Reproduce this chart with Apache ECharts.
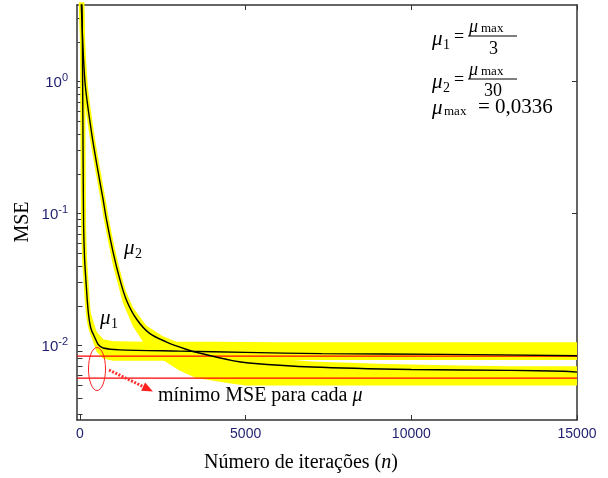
<!DOCTYPE html>
<html>
<head>
<meta charset="utf-8">
<script src="https://cdn.jsdelivr.net/npm/echarts@6/dist/echarts.min.js"></script>
<style>
  html, body { margin: 0; padding: 0; background: #fff; }
  #main { width: 608px; height: 478px; }
</style>
</head>
<body>
<div id="main"></div>
<script>
// curva mu1 (passo maior)
const mu1N = [0, 60, 80, 95, 110, 140, 180, 250, 330, 450, 550, 700, 1200, 3000, 5000, 7300, 11000, 15000];
const mu1Mse = [8, 3.8, 1.0, 0.25, 0.08, 0.045, 0.031, 0.018, 0.0135, 0.0115, 0.0102, 0.0096, 0.0093, 0.0091, 0.0089, 0.0087, 0.0086, 0.0084];

// curva mu2 (passo menor)
const mu2N = [0, 40, 150, 350, 520, 700, 800, 1000, 1200, 1400, 1700, 2100, 2600, 3200, 3600, 4600, 5100, 7000, 10000, 13000, 14600, 15000];
const mu2Mse = [10, 3.8, 1.0, 0.41, 0.227, 0.127, 0.09, 0.051, 0.032, 0.0222, 0.016, 0.0124, 0.0107, 0.0094, 0.0088, 0.0077, 0.0074, 0.0069, 0.0066, 0.0065, 0.0064, 0.0063];

// faixa de ruido (amarelo): envelopes
const mu1BandN = [150, 200, 300, 500, 700, 1000, 2000, 4000, 6000, 8000, 10000, 12000, 15000];
const mu1Hi = [0.05, 0.032, 0.0185, 0.0128, 0.0112, 0.0108, 0.0107, 0.0107, 0.0106, 0.0106, 0.0106, 0.0106, 0.0106];
const mu1Lo = [0.03, 0.019, 0.0125, 0.0090, 0.0080, 0.0077, 0.0077, 0.0077, 0.0078, 0.0078, 0.0078, 0.0078, 0.0078];

const mu2BandN = [700, 1000, 1300, 1600, 2000, 2500, 3000, 3500, 4500, 5000, 7000, 9000, 11000, 13000, 15000];
const mu2Hi = [0.14, 0.056, 0.029, 0.0195, 0.0142, 0.0118, 0.0105, 0.0098, 0.0088, 0.0083, 0.0076, 0.0073, 0.0071, 0.0070, 0.0070];
const mu2Lo = [0.10, 0.040, 0.021, 0.0140, 0.0098, 0.0078, 0.0065, 0.0057, 0.0052, 0.0050, 0.0050, 0.0050, 0.0050, 0.0050, 0.0050];

// minimo MSE para cada mu
const minMse = [0.00833, 0.00567];

const xTicks = [0, 5000, 10000, 15000];
const yDecades = [-2, -1, 0];
const xMin = -90;
const xMax = 15000;

const lg = Math.log10;
const yMinor = [];
yDecades.concat([-3]).forEach(d => {
  for (let k = 2; k <= 9; k++) yMinor.push(lg(k) + d);
});

const pairs = (xs, ys) => xs.map((x, i) => [x, lg(ys[i])]);

const navy = '#1e1e6e';
const boxLine = { show: true, onZero: false, lineStyle: { color: '#333', width: 1.5 } };
const yRange = { min: -2.563, max: 0.581 };

// faixa amarela desenhada como poligono pelas coordenadas do grid
function bandSeries(xs, hi, lo) {
  return {
    type: 'custom', silent: true, z: 1, clip: true,
    data: xs.map((x, i) => [x, lg(hi[i]), lg(lo[i])]),
    encode: { x: 0, y: [1, 2] },
    renderItem: (params, api) => {
      if (params.dataIndex !== 0) return;
      const top = xs.map((x, i) => api.coord([x, lg(hi[i])]));
      const bot = xs.map((x, i) => api.coord([x, lg(lo[i])])).reverse();
      return { type: 'polygon', shape: { points: top.concat(bot) }, style: { fill: '#ffff00' } };
    }
  };
}

const serif = 'Liberation Serif';
const chart = echarts.init(document.getElementById('main'));

const option = {
  animation: false,
  grid: { left: 77, right: 31, top: 5, bottom: 58 },
  xAxis: [
    {
      type: 'value', min: xMin, max: xMax, position: 'bottom',
      axisLine: boxLine, splitLine: { show: false },
      axisTick: { inside: true, length: 5, customValues: xTicks, lineStyle: { color: '#333' } },
      axisLabel: {
        customValues: xTicks, color: navy, fontSize: 14, fontFamily: 'Liberation Sans', margin: 7,
        formatter: v => String(v)
      }
    },
    {
      type: 'value', min: xMin, max: xMax, position: 'top',
      axisLine: boxLine, splitLine: { show: false },
      axisTick: { inside: true, length: 5, customValues: xTicks, lineStyle: { color: '#333' } },
      axisLabel: { show: false }
    }
  ],
  yAxis: [
    {
      type: 'value', ...yRange, position: 'left',
      axisLine: boxLine, splitLine: { show: false },
      axisTick: { inside: true, length: 5, customValues: yDecades, lineStyle: { color: '#333' } },
      axisLabel: {
        customValues: yDecades, margin: 9,
        formatter: v => '{b|10}{s|' + v + '}',
        rich: {
          b: { fontSize: 15, fontFamily: 'Liberation Sans', color: navy, verticalAlign: 'bottom' },
          s: { fontSize: 11, fontFamily: 'Liberation Sans', color: navy, padding: [0, 0, 7, 0], verticalAlign: 'top' }
        }
      }
    },
    {
      type: 'value', ...yRange, position: 'left',
      axisLine: { show: false }, splitLine: { show: false }, axisLabel: { show: false },
      axisTick: { inside: true, length: 2.5, customValues: yMinor, lineStyle: { color: '#333' } }
    },
    {
      type: 'value', ...yRange, position: 'right',
      axisLine: boxLine, splitLine: { show: false }, axisLabel: { show: false },
      axisTick: { inside: true, length: 5, customValues: yDecades, lineStyle: { color: '#333' } }
    },
    {
      type: 'value', ...yRange, position: 'right',
      axisLine: { show: false }, splitLine: { show: false }, axisLabel: { show: false },
      axisTick: { inside: true, length: 2.5, customValues: yMinor, lineStyle: { color: '#333' } }
    }
  ],
  series: [
    bandSeries(mu1BandN, mu1Hi, mu1Lo),
    bandSeries(mu2BandN, mu2Hi, mu2Lo),
    {
      type: 'line', data: pairs(mu1N, mu1Mse), symbol: 'none', smooth: 0.3,
      lineStyle: { color: '#ffff00', width: 5 }, z: 2, silent: true
    },
    {
      type: 'line', data: pairs(mu2N, mu2Mse), symbol: 'none', smooth: 0.3,
      lineStyle: { color: '#ffff00', width: 5 }, z: 2, silent: true
    },
    ...minMse.map(v => ({
      type: 'line', data: [[xMin, lg(v)], [xMax, lg(v)]], symbol: 'none',
      lineStyle: { color: '#ff0000', width: 1.3 }, z: 3, silent: true
    })),
    {
      type: 'line', data: pairs(mu1N, mu1Mse), symbol: 'none', smooth: 0.3,
      lineStyle: { color: '#000', width: 1.4 }, z: 4, silent: true
    },
    {
      type: 'line', data: pairs(mu2N, mu2Mse), symbol: 'none', smooth: 0.3,
      lineStyle: { color: '#000', width: 1.4 }, z: 4, silent: true
    }
  ],
  graphic: [
    // titulos dos eixos
    {
      type: 'text', x: 23, y: 222, rotation: Math.PI / 2,
      style: { text: 'MSE', font: '20px "Liberation Serif"', fill: '#000', align: 'center', verticalAlign: 'middle' }
    },
    {
      type: 'text', x: 301, y: 463,
      style: {
        text: 'Número de iterações ({i|n})', font: '20px "Liberation Serif"', fill: '#000',
        align: 'center', verticalAlign: 'middle',
        rich: { i: { font: 'italic 20px "Liberation Serif"', fill: '#000' } }
      }
    },
    // rotulos das curvas
    { type: 'text', left: 100, top: 308, style: { text: 'μ', font: 'italic 21px "Liberation Serif"', fill: '#000' } },
    { type: 'text', left: 111, top: 317, style: { text: '1', font: '14px "Liberation Serif"', fill: '#000' } },
    { type: 'text', left: 124, top: 238, style: { text: 'μ', font: 'italic 21px "Liberation Serif"', fill: '#000' } },
    { type: 'text', left: 135, top: 247, style: { text: '2', font: '14px "Liberation Serif"', fill: '#000' } },
    // elipse e seta
    { type: 'ellipse', shape: { cx: 97, cy: 369, rx: 8.5, ry: 21.5 }, style: { fill: 'none', stroke: '#ff2020', lineWidth: 1 }, z: 10 },
    { type: 'line', shape: { x1: 109, y1: 370, x2: 144, y2: 387 }, style: { stroke: '#ff3030', lineWidth: 3, lineDash: [2, 1.5] }, z: 10 },
    { type: 'polygon', shape: { points: [[153, 391.5], [141.1, 390.8], [145.1, 382.6]] }, style: { fill: '#ff2020' }, z: 10 },
    {
      type: 'text', left: 158, top: 386, z: 10,
      style: {
        text: 'mínimo MSE para cada {i|μ}', font: '20px "Liberation Serif"', fill: '#000',
        rich: { i: { font: 'italic 20px "Liberation Serif"', fill: '#000' } }
      }
    },
    // formulas
    { type: 'text', left: 432, top: 29, style: { text: 'μ', font: 'italic 21px "Liberation Serif"', fill: '#000' } },
    { type: 'text', left: 443, top: 38, style: { text: '1', font: '14px "Liberation Serif"', fill: '#000' } },
    { type: 'text', left: 454, top: 28, style: { text: '=', font: '18px "Liberation Serif"', fill: '#000' } },
    { type: 'text', left: 469, top: 18, style: { text: 'μ', font: 'italic 18px "Liberation Serif"', fill: '#000' } },
    { type: 'text', left: 481, top: 22, style: { text: 'max', font: '13px "Liberation Serif"', fill: '#000' } },
    { type: 'line', shape: { x1: 468, y1: 36, x2: 517, y2: 36 }, style: { stroke: '#000', lineWidth: 1 } },
    { type: 'text', left: 489, top: 40, style: { text: '3', font: '18px "Liberation Serif"', fill: '#000' } },

    { type: 'text', left: 432, top: 72, style: { text: 'μ', font: 'italic 21px "Liberation Serif"', fill: '#000' } },
    { type: 'text', left: 443, top: 81, style: { text: '2', font: '14px "Liberation Serif"', fill: '#000' } },
    { type: 'text', left: 454, top: 71, style: { text: '=', font: '18px "Liberation Serif"', fill: '#000' } },
    { type: 'text', left: 469, top: 61, style: { text: 'μ', font: 'italic 18px "Liberation Serif"', fill: '#000' } },
    { type: 'text', left: 481, top: 65, style: { text: 'max', font: '13px "Liberation Serif"', fill: '#000' } },
    { type: 'line', shape: { x1: 468, y1: 79, x2: 517, y2: 79 }, style: { stroke: '#000', lineWidth: 1 } },
    { type: 'text', left: 484, top: 82, style: { text: '30', font: '18px "Liberation Serif"', fill: '#000' } },

    { type: 'text', left: 432, top: 98, style: { text: 'μ', font: 'italic 21px "Liberation Serif"', fill: '#000' } },
    { type: 'text', left: 444, top: 105, style: { text: 'max', font: '13px "Liberation Serif"', fill: '#000' } },
    { type: 'text', left: 478, top: 97, style: { text: '= 0,0336', font: '21px "Liberation Serif"', fill: '#000' } }
  ]
};

chart.setOption(option);
</script>
</body>
</html>
